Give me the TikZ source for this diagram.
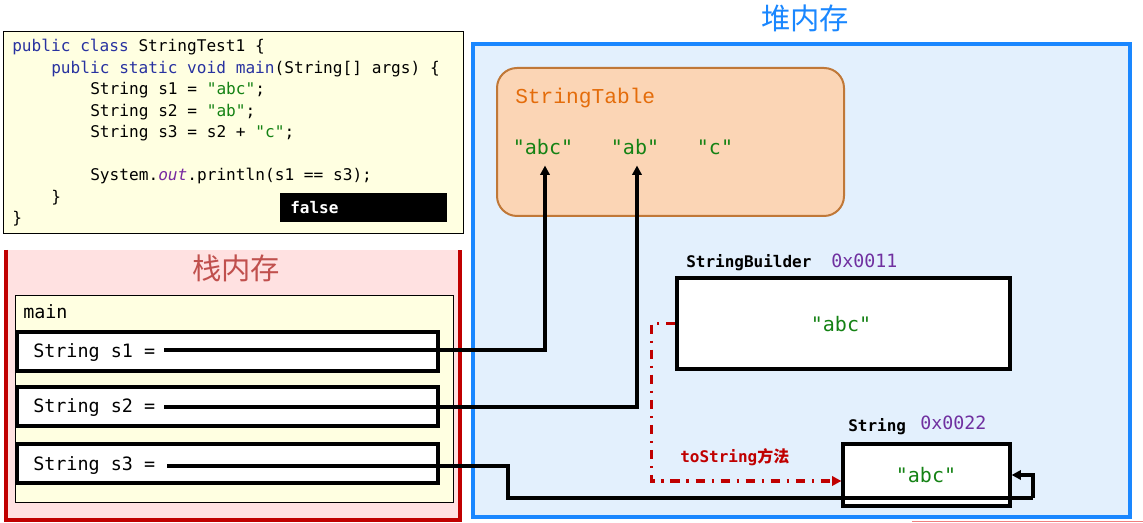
\documentclass[tikz,border=0pt]{standalone}
\usepackage{fontspec}
\newfontfamily\cjk{Noto Sans CJK SC}
\newfontfamily\mono{DejaVu Sans Mono}
\newfontfamily\smono{Liberation Mono}
\usetikzlibrary{arrows.meta,calc}
\definecolor{codebg}{RGB}{255,255,225}
\definecolor{kw}{RGB}{40,50,160}
\definecolor{strg}{RGB}{20,130,20}
\definecolor{outp}{RGB}{120,40,160}
\definecolor{addr}{RGB}{112,48,160}
\definecolor{stackfill}{RGB}{255,225,225}
\definecolor{stackline}{RGB}{192,0,0}
\definecolor{stacktitle}{RGB}{192,80,77}
\definecolor{heapfill}{RGB}{227,240,253}
\definecolor{heapline}{RGB}{26,135,255}
\definecolor{tablefill}{RGB}{251,213,181}
\definecolor{tableline}{RGB}{192,120,56}
\definecolor{tabletext}{RGB}{228,108,10}
\definecolor{dashred}{RGB}{192,0,0}
\tikzset{
  code/.style={anchor=base west,inner sep=0pt,font=\mono\fontsize{12.1pt}{14pt}\selectfont},
  varbox/.style={draw=black,line width=2.4pt,fill=white,minimum width=315.75pt,minimum height=29.25pt,inner sep=0pt},
  varlbl/.style={anchor=base west,inner sep=0pt,font=\mono\fontsize{13.8pt}{16pt}\selectfont},
  heapbox/.style={draw=black,line width=2.4pt,fill=white,inner sep=0pt},
  strval/.style={anchor=base,inner sep=0pt,text=strg,font=\mono\fontsize{15pt}{17pt}\selectfont},
  objlbl/.style={anchor=base west,inner sep=0pt,font=\mono\bfseries\fontsize{12pt}{14pt}\selectfont},
  addrlbl/.style={anchor=base west,inner sep=0pt,text=addr,font=\mono\fontsize{13.7pt}{16pt}\selectfont},
  ptr/.style={draw=black,line width=2.6pt,-{Triangle[length=7pt,width=7pt]}},
  plainptr/.style={draw=black,line width=2.6pt},
  tostr/.style={draw=dashred,line width=2.6pt,dash pattern=on 7pt off 5pt on 1.8pt off 5pt,-{Triangle[length=7pt,width=7pt]}},
  title/.style={anchor=base,inner sep=0pt,font=\cjk\fontsize{22pt}{24pt}\selectfont}
}
\begin{document}
\begin{tikzpicture}[x=0.75pt,y=-0.75pt]
\useasboundingbox (0,0) rectangle (1143,523);

% ---------- code box ----------
\node[draw=black,line width=0.75pt,fill=codebg,minimum width=345pt,minimum height=151.5pt,inner sep=0pt] (codebox) at (233,133) {};
\node[code] (c1) at (12,52) {{\color{kw}public class} StringTest1 \{};
\node[code] (c2) at (51,73.5) {{\color{kw}public static void main}(String[] args) \{};
\node[code] (c3) at (90,95) {String s1 = {\color{strg}"abc"};};
\node[code] (c4) at (90,116.5) {String s2 = {\color{strg}"ab"};};
\node[code] (c5) at (90,138) {String s3 = s2 + {\color{strg}"c"};};
\node[code] (c6) at (90,181) {System.{\color{outp}\itshape out}.println(s1 == s3);};
\node[code] (c7) at (51,202.5) {\}};
\node[code] (c8) at (12,224) {\}};
\node[fill=black,minimum width=125.25pt,minimum height=21.75pt,inner sep=0pt] (falsebox) at (363.5,207.5) {};
\node[code,text=white,font=\mono\bfseries\fontsize{12pt}{14pt}\selectfont] (falsetxt) at (290,214) {false};

% ---------- stack ----------
\fill[stackfill] (5,250) rectangle (461,521);
\draw[stackline,line width=2.6pt] (6,250) -- (6,520) -- (460,520) -- (460,250);
\node[title,text=stacktitle] (stacktitle) at (236,280) {栈内存};
\node[draw=black,line width=0.75pt,fill=codebg,minimum width=328.5pt,minimum height=155.25pt,inner sep=0pt] (mainframe) at (234,399.5) {};
\node[varlbl] (mainlbl) at (23,319) {main};
\node[varbox] (v1) at (227.5,351.5) {};
\node[varbox] (v2) at (227.5,406.5) {};
\node[varbox] (v3) at (227.5,463.5) {};
\node[varlbl] (s1lbl) at (33,358) {String s1 =};
\node[varlbl] (s2lbl) at (33,413) {String s2 =};
\node[varlbl] (s3lbl) at (33,471) {String s3 =};

% ---------- heap ----------
\draw[heapline,fill=heapfill,line width=3pt] (473,44) rectangle (1130,517);
\node[title,text=heapline] (heaptitle) at (805,30) {堆内存};
\node[draw=tableline,fill=tablefill,line width=1.5pt,rounded corners=15pt,minimum width=260.25pt,minimum height=111pt,inner sep=0pt] (table) at (670.5,142) {};
\node[anchor=base west,inner sep=0pt,text=tabletext,font=\smono\fontsize{15.9pt}{18pt}\selectfont] (tabletitle) at (515,104) {StringTable};
\node[strval] (abc1) at (543,155) {"abc"};
\node[strval] (ab1) at (635,155) {"ab"};
\node[strval] (c1v) at (715,155) {"c"};

\node[heapbox,minimum width=249.75pt,minimum height=68.25pt] (sb) at (843.5,323.5) {};
\node[strval] (sbval) at (841,332) {"abc"};
\node[objlbl] (sblbl) at (686,268) {StringBuilder};
\node[addrlbl] (sbaddr) at (831,268) {0x0011};

\node[heapbox,minimum width=125.25pt,minimum height=46.5pt] (str) at (926.5,475) {};
\node[strval] (strval) at (926,483) {"abc"};
\node[objlbl] (strlbl) at (848,432) {String};
\node[addrlbl] (straddr) at (920,430) {0x0022};

% ---------- connectors ----------
\coordinate (k1) at (508,498);
\coordinate (k2) at (1033,498);
\draw[ptr] ($(s1lbl.base east)+(9,-8)$) -| ($(abc1.south)+(2,10)$);
\draw[ptr] ($(s2lbl.base east)+(9,-6)$) -| ($(ab1.south)+(2,10)$);
\draw[plainptr] ($(s3lbl.base east)+(12,-5)$) -| (k1) -- (k2);
\draw[ptr] (k2) |- (str.east);
\draw[tostr] (sb.west) -- ++(-24,0) |- ($(str.west)+(0,6)$);
\node[anchor=base west,inner sep=0pt,text=dashred,font=\mono\bfseries\fontsize{12pt}{14pt}\selectfont] (tostrlbl) at (680,463) {toString{\cjk\bfseries 方法}};

% faint line bottom right
\draw[color={rgb,255:red,240;green,128;blue,128},line width=0.75pt] (912,521.5) -- (1143,521.5);
\end{tikzpicture}
\end{document}
